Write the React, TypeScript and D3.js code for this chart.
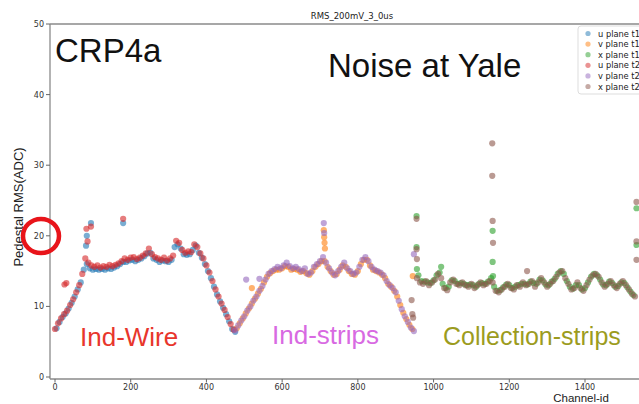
import React from "react";
import * as d3 from "d3";

// channel grid: band values every 8 channels, t1 offset by 4
const STEP = 8;
const uT2Start = 0;
const uT2 = [6.8, 7.6, 8.3, 8.9, 9.4, 10.2, 11.0, 12.0, 13.0, 14.6, 16.8, 16.2, 15.8, 15.6, 15.8, 15.5, 15.7, 15.6, 15.9, 15.7,
  15.9, 16.1, 16.4, 16.8, 16.6, 16.9, 17.0, 16.7, 16.9, 17.2, 17.5, 18.2, 17.4, 17.0, 16.8, 16.6, 16.9, 16.5, 16.8, 17.2,
  19.3, 19.0, 18.0, 17.6, 17.8, 17.7, 18.8, 18.4, 17.5, 16.8, 15.8, 14.8, 13.6, 12.4, 11.4, 10.4, 9.5, 8.5, 7.5, 6.7];
const uT1Start = 4;
const uT1 = [6.9, 7.8, 8.5, 9.0, 9.7, 10.5, 11.4, 12.4, 13.4, 15.2, 16.0, 15.4, 15.2, 15.3, 15.2, 15.3, 15.2, 15.4, 15.3, 15.5,
  15.7, 16.0, 16.3, 16.3, 16.5, 16.6, 16.4, 16.6, 16.8, 17.1, 17.5, 17.6, 16.8, 16.6, 16.3, 16.5, 16.4, 16.3, 16.6, 18.4,
  18.8, 18.2, 17.4, 17.3, 17.4, 18.0, 18.6, 17.6, 16.9, 16.0, 15.0, 14.0, 12.8, 11.7, 10.7, 9.8, 8.9, 7.9, 6.8, 6.4];

const vT2Start = 476;
const vT2 = [6.6, 7.3, 8.0, 8.6, 9.4, 10.0, 10.8, 11.4, 12.2, 12.9, 13.8, 14.6, 15.0, 15.3, 15.6, 15.4, 15.8, 16.2, 15.7, 15.4,
  15.6, 15.3, 15.0, 15.4, 14.6, 14.8, 15.6, 16.0, 16.4, 17.0, 16.2, 15.4, 14.8, 14.4, 15.0, 15.6, 16.2, 15.4, 15.0, 14.6,
  14.8, 15.6, 16.6, 17.0, 16.4, 15.6, 15.2, 15.0, 14.8, 14.4, 13.6, 13.0, 12.6, 12.0, 10.8, 9.6, 8.6, 7.8, 7.0, 6.5];
const vT1Start = 480;
const vT1 = [6.9, 7.6, 8.3, 9.0, 9.7, 10.4, 11.1, 11.8, 12.5, 13.4, 14.2, 14.7, 15.0, 15.2, 15.2, 15.4, 15.7, 15.6, 15.2, 15.3,
  15.2, 14.9, 15.0, 14.7, 14.5, 15.0, 15.6, 16.0, 16.4, 16.4, 15.6, 15.0, 14.5, 14.6, 15.2, 15.8, 15.6, 15.0, 14.6, 14.5,
  15.0, 16.0, 16.6, 16.6, 15.8, 15.2, 15.0, 14.8, 14.5, 14.0, 13.2, 12.8, 12.2, 11.4, 10.2, 9.1, 8.2, 7.4, 6.8];

const xT2Start = 956;
const xT2 = [14.0, 13.4, 13.2, 13.6, 13.0, 13.4, 13.8, 14.6, 14.0, 12.6, 12.3, 13.4, 13.8, 13.2, 13.0, 13.4, 13.0, 12.8, 13.2, 12.6,
  13.0, 13.4, 13.0, 13.2, 13.6, 13.4, 12.2, 12.0, 12.4, 12.8, 13.2, 12.6, 12.4, 13.0, 12.8, 13.4, 13.0, 13.2, 13.6, 12.8,
  13.4, 14.0, 13.4, 12.8, 13.2, 13.6, 14.2, 14.8, 15.0, 14.0, 13.2, 12.4, 12.6, 13.4, 12.6, 12.2, 13.0, 13.8, 14.4, 14.6,
  14.2, 13.4, 12.8, 13.2, 13.6, 13.0, 12.6, 13.2, 13.6, 13.0, 12.4, 11.8, 11.4];
const xT1Start = 960;
const xT1 = [14.4, 13.6, 13.5, 13.4, 13.3, 13.7, 14.4, 14.8, 13.2, 12.6, 12.8, 13.7, 13.6, 13.2, 13.3, 13.2, 13.0, 13.1, 13.0, 12.8,
  13.2, 13.3, 13.2, 13.5, 14.0, 12.8, 12.2, 12.3, 12.7, 13.1, 13.0, 12.6, 12.8, 13.0, 13.2, 13.2, 13.1, 13.5, 13.3, 13.2,
  13.8, 13.7, 13.1, 13.0, 13.5, 13.9, 14.6, 15.0, 14.6, 13.6, 12.8, 12.5, 13.0, 13.0, 12.4, 12.6, 13.4, 14.2, 14.6, 14.4,
  13.8, 13.1, 13.0, 13.5, 13.3, 12.8, 12.9, 13.4, 13.3, 12.7, 12.1, 11.6];

// noisy channels sitting off the band
const uT1OutCh = [82, 84, 95, 180];
const uT1OutVal = [18.6, 20.0, 21.8, 21.8];
const uT2OutCh = [25, 30, 83, 86, 95, 180];
const uT2OutVal = [13.1, 13.3, 21.0, 19.2, 21.3, 22.4];
const vT1OutCh = [710, 711, 712, 713, 520, 945];
const vT1OutVal = [20.8, 19.8, 19.0, 18.2, 12.6, 14.3];
const vT2OutCh = [710, 711, 505, 540, 948];
const vT2OutVal = [21.8, 20.4, 13.8, 13.9, 17.4];
const xT1OutCh = [955, 955, 956, 1156, 1156, 1157, 1536, 1536, 1020];
const xT1OutVal = [22.8, 18.4, 15.3, 20.7, 16.3, 14.3, 23.9, 18.7, 15.6];
const xT2OutCh = [955, 955, 956, 1155, 1155, 1156, 1157, 1536, 1536, 1536, 1247, 942, 944, 946];
const xT2OutVal = [22.4, 18.1, 16.7, 33.1, 28.5, 22.1, 19.0, 24.8, 19.2, 16.6, 15.0, 10.9, 8.9, 8.4];

const seriesNames = ["u plane t1", "v plane t1", "x plane t1", "u plane t2", "v plane t2", "x plane t2"];
const seriesColors = ["#1f77b4", "#ff7f0e", "#2ca02c", "#d62728", "#9467bd", "#8c564b"];
const xTicks = [0, 200, 400, 600, 800, 1000, 1200, 1400];
const yTicks = [0, 10, 20, 30, 40, 50];

type Pt = { ch: number; v: number };

function band(start: number, vals: number[]): Pt[] {
  return vals.map((v, i) => ({ ch: start + i * STEP, v }));
}
function extra(chs: number[], vals: number[]): Pt[] {
  return chs.map((ch, i) => ({ ch, v: vals[i] }));
}

const seriesPts: Pt[][] = [
  band(uT1Start, uT1).concat(extra(uT1OutCh, uT1OutVal)),
  band(vT1Start, vT1).concat(extra(vT1OutCh, vT1OutVal)),
  band(xT1Start, xT1).concat(extra(xT1OutCh, xT1OutVal)),
  band(uT2Start, uT2).concat(extra(uT2OutCh, uT2OutVal)),
  band(vT2Start, vT2).concat(extra(vT2OutCh, vT2OutVal)),
  band(xT2Start, xT2).concat(extra(xT2OutCh, xT2OutVal)),
];

export default function App() {
  const width = 639, height = 404;
  const left = 50, top = 24, bottom = 379;
  const x = d3.scaleLinear().domain([0, 1400]).range([55, 585]);
  const y = d3.scaleLinear().domain([0, 50]).range([377, 24]);
  const sans = "'Liberation Sans', Arial, sans-serif";
  const tickFont = "'DejaVu Sans', sans-serif";

  return (
    <svg width={width} height={height} style={{ position: "absolute", left: 0, top: 0, background: "#fff" }}>
      <text x={352} y={19} fontSize={8.5} fontFamily={tickFont} textAnchor="middle" fill="#222">RMS_200mV_3_0us</text>

      {/* spines */}
      <g stroke="#8a8a8a" strokeWidth={1.3} fill="none">
        <line x1={left} y1={top} x2={width} y2={top} />
        <line x1={left} y1={top} x2={left} y2={bottom} />
        <line x1={left} y1={bottom} x2={width} y2={bottom} />
      </g>

      {yTicks.map((t) => (
        <g key={"y" + t}>
          <line x1={left - 4} x2={left} y1={y(t)} y2={y(t)} stroke="#666" strokeWidth={1} />
          <text x={left - 6} y={y(t) + 3} fontSize={8} fontFamily={tickFont} textAnchor="end" fill="#333">{t}</text>
        </g>
      ))}
      {xTicks.map((t) => (
        <g key={"x" + t}>
          <line x1={x(t)} x2={x(t)} y1={bottom} y2={bottom + 3.5} stroke="#666" strokeWidth={1} />
          <text x={x(t)} y={bottom + 10.5} fontSize={8} fontFamily={tickFont} textAnchor="middle" fill="#333">{t}</text>
        </g>
      ))}

      <text transform="translate(23,207) rotate(-90)" fontSize={13} fontFamily={sans} textAnchor="middle" fill="#222">Pedestal RMS(ADC)</text>
      <text x={581} y={402} fontSize={11.5} fontFamily={sans} textAnchor="middle" fill="#222">Channel-id</text>

      {seriesPts.map((pts, s) => (
        <g key={seriesNames[s]} fill={seriesColors[s]} fillOpacity={0.6}>
          {pts.map((p, i) => (
            <circle key={i} cx={x(p.ch)} cy={y(p.v)} r={3.1} />
          ))}
        </g>
      ))}

      {/* legend */}
      <rect x={578} y={26} width={70} height={68} rx={3} fill="#fff" fillOpacity={0.85} stroke="#ddd" strokeWidth={1} />
      {seriesNames.map((n, i) => (
        <g key={n}>
          <circle cx={588} cy={33.5 + i * 10.6} r={2.6} fill={seriesColors[i]} fillOpacity={0.5} />
          <text x={598} y={36.5 + i * 10.6} fontSize={8.3} fontFamily={tickFont} fill="#222">{n}</text>
        </g>
      ))}

      <text x={55} y={62} fontSize={33} fontFamily={sans} fill="#111">CRP4a</text>
      <text x={328} y={77} fontSize={33} fontFamily={sans} fill="#111">Noise at Yale</text>
      <text x={80} y={346} fontSize={26} fontFamily={sans} fill="#e8362c">Ind-Wire</text>
      <text x={272} y={344} fontSize={26} fontFamily={sans} fill="#d86ae2">Ind-strips</text>
      <text x={443} y={345} fontSize={25} fontFamily={sans} fill="#9c9c1e">Collection-strips</text>

      <ellipse cx={41} cy={236} rx={18} ry={17} fill="none" stroke="#e8141a" strokeWidth={4.5} />
    </svg>
  );
}
